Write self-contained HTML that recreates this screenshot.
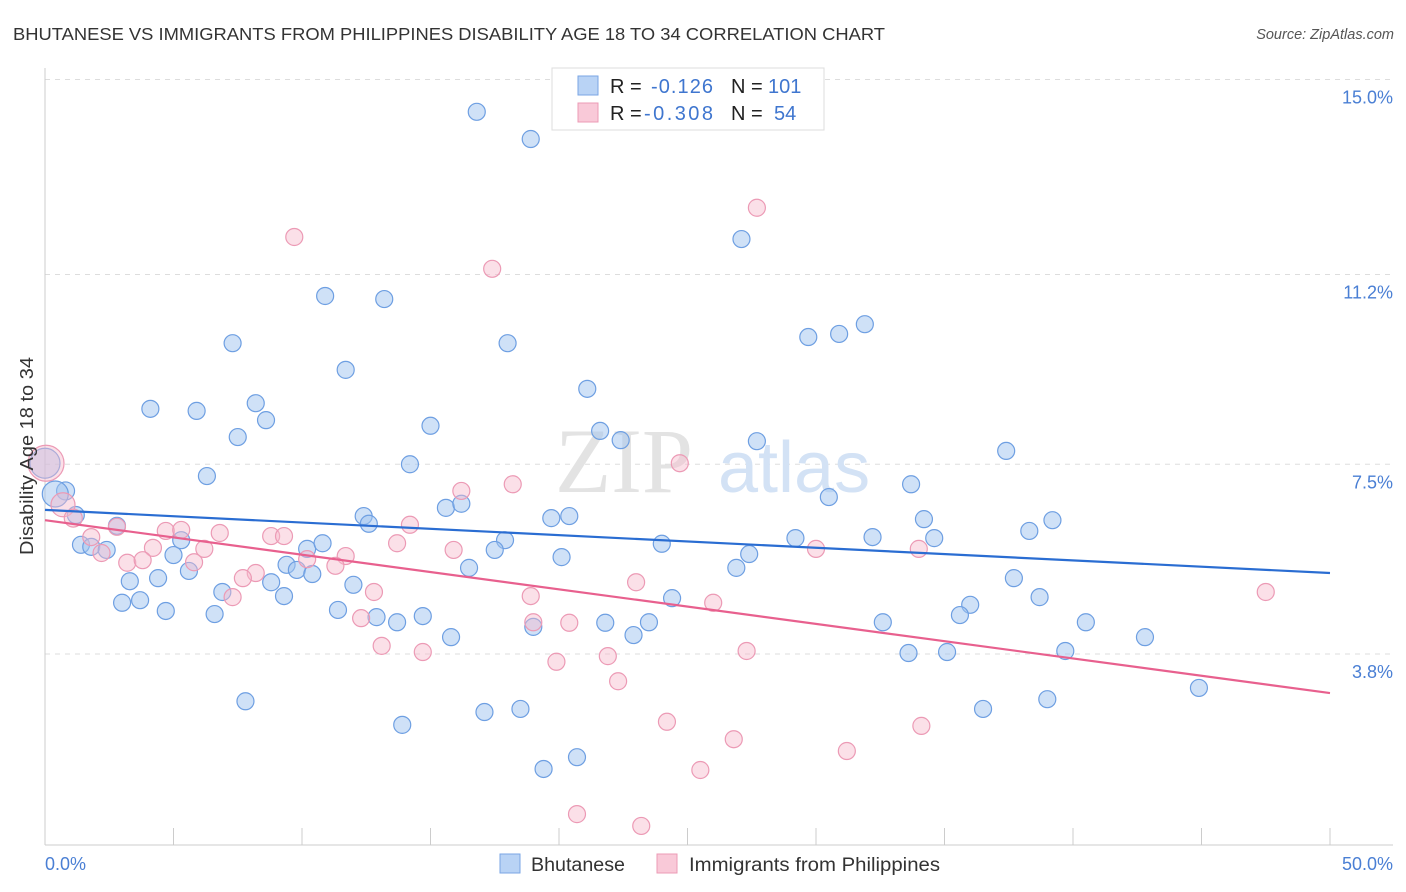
<!DOCTYPE html>
<html><head><meta charset="utf-8">
<style>
body{margin:0;background:#fff;font-family:"Liberation Sans",sans-serif;}
svg{display:block}
</style></head>
<body>
<svg id="chart" width="1406" height="892" viewBox="0 0 1406 892" xmlns="http://www.w3.org/2000/svg">
<text x="13" y="40" font-size="17.5" fill="#333" textLength="872" lengthAdjust="spacingAndGlyphs">BHUTANESE VS IMMIGRANTS FROM PHILIPPINES DISABILITY AGE 18 TO 34 CORRELATION CHART</text>
<text x="1394" y="39" font-size="14.5" fill="#555" font-style="italic" text-anchor="end">Source: ZipAtlas.com</text>
<g id="grid"></g>
<g>
<text x="555" y="492" font-size="92" font-family="Liberation Serif,serif" fill="#e3e3e3">ZIP</text>
<text x="718" y="492" font-size="72" fill="#d3e2f5">atlas</text>
</g>
<g id="axes"></g>
<g id="pts"></g>
<g id="trends"></g>
<text transform="translate(33,456) rotate(-90)" font-size="18" fill="#333" text-anchor="middle" textLength="198" lengthAdjust="spacingAndGlyphs">Disability Age 18 to 34</text>
<text x="45" y="870" font-size="18" fill="#4a7fd4">0.0%</text>
<text x="1393" y="870" font-size="18" fill="#4a7fd4" text-anchor="end">50.0%</text>
<g>
<rect x="552" y="68" width="272" height="62" fill="#fff" stroke="#ddd"/>
<rect x="578" y="76" width="20" height="19" fill="#b9d3f5" stroke="#7aa6e4"/>
<rect x="578" y="103" width="20" height="19" fill="#f9c9d8" stroke="#ec9bb6"/>
<text x="610" y="93" font-size="20" fill="#222">R = <tspan fill="#3f76cf" x="651" textLength="62">-0.126</tspan><tspan x="731">N = </tspan><tspan fill="#3f76cf" x="768">101</tspan></text>
<text x="610" y="120" font-size="20" fill="#222">R = <tspan fill="#3f76cf" x="644" textLength="69">-0.308</tspan><tspan x="731">N = </tspan><tspan fill="#3f76cf" x="774">54</tspan></text>
</g>
<g>
<rect x="500" y="854" width="20" height="19" fill="#b9d3f5" stroke="#7aa6e4"/>
<text x="531" y="871" font-size="19" fill="#333" textLength="94" lengthAdjust="spacingAndGlyphs">Bhutanese</text>
<rect x="657" y="854" width="20" height="19" fill="#f9c9d8" stroke="#ec9bb6"/>
<text x="689" y="871" font-size="19" fill="#333" textLength="251" lengthAdjust="spacingAndGlyphs">Immigrants from Philippines</text>
</g>
</svg>
<script>
const yTicks=[15.0,11.2,7.5,3.8];
const yTickLabels=["15.0%","11.2%","7.5%","3.8%"];
const xTicks=[0,5,10,15,20,25,30,35,40,45,50];
const blueX=[16.8,18.9,27.1,10.9,13.2,18.0,7.3,29.7,30.9,31.9,11.7,21.1,4.1,5.9,8.2,8.6,15.0,7.5,21.6,22.4,27.7,37.4,14.2,6.3,33.7,30.5,0.8,0.4,15.6,16.2,12.4,12.6,19.7,20.4,34.2,39.2,38.3,1.2,2.8,5.3,1.4,1.8,2.4,10.2,10.8,17.9,17.5,20.1,24.0,29.2,32.2,34.6,27.4,5.0,9.4,9.8,10.4,16.5,26.9,5.6,3.3,4.4,8.8,12.0,37.7,6.9,9.3,24.4,38.7,3.0,3.7,4.7,6.6,11.4,12.9,13.7,14.7,36.0,35.6,21.8,19.0,23.5,22.9,32.6,40.5,15.8,42.8,33.6,35.1,39.7,44.9,7.8,39.0,17.1,18.5,36.5,13.9,19.4,20.7,0.0];
const blueY=[14.37,13.84,11.89,10.78,10.72,9.86,9.86,9.98,10.04,10.23,9.34,8.97,8.58,8.54,8.69,8.36,8.25,8.03,8.15,7.97,7.95,7.76,7.50,7.27,7.11,6.86,6.98,6.92,6.65,6.73,6.49,6.34,6.45,6.49,6.43,6.41,6.20,6.51,6.30,6.02,5.93,5.89,5.83,5.85,5.96,6.02,5.83,5.69,5.95,6.06,6.08,6.06,5.75,5.73,5.54,5.44,5.36,5.48,5.48,5.42,5.22,5.28,5.20,5.15,5.28,5.01,4.93,4.89,4.91,4.80,4.85,4.64,4.58,4.66,4.52,4.42,4.54,4.76,4.56,4.41,4.33,4.42,4.17,4.42,4.42,4.13,4.13,3.82,3.84,3.86,3.14,2.88,2.92,2.67,2.73,2.73,2.42,1.56,1.79,7.52];
const blueR=[8.5,8.5,8.5,8.5,8.5,8.5,8.5,8.5,8.5,8.5,8.5,8.5,8.5,8.5,8.5,8.5,8.5,8.5,8.5,8.5,8.5,8.5,8.5,8.5,8.5,8.5,9,13,8.5,8.5,8.5,8.5,8.5,8.5,8.5,8.5,8.5,8.5,8.5,8.5,8.5,8.5,8.5,8.5,8.5,8.5,8.5,8.5,8.5,8.5,8.5,8.5,8.5,8.5,8.5,8.5,8.5,8.5,8.5,8.5,8.5,8.5,8.5,8.5,8.5,8.5,8.5,8.5,8.5,8.5,8.5,8.5,8.5,8.5,8.5,8.5,8.5,8.5,8.5,8.5,8.5,8.5,8.5,8.5,8.5,8.5,8.5,8.5,8.5,8.5,8.5,8.5,8.5,8.5,8.5,8.5,8.5,8.5,8.5,15];
const pinkX=[0.04,9.7,27.7,17.4,24.7,16.2,18.2,0.7,1.1,1.8,2.8,4.7,5.3,6.8,8.8,9.3,4.2,6.2,2.2,3.2,3.8,5.8,10.2,11.7,11.3,8.2,7.7,13.7,14.2,15.9,23.0,30.0,34.0,12.8,18.9,7.3,26.0,47.5,12.3,19.0,20.4,13.1,14.7,19.9,21.9,27.3,22.3,24.2,26.8,34.1,31.2,25.5,20.7,23.2];
const pinkY=[7.52,11.93,12.50,11.31,7.52,6.98,7.11,6.71,6.45,6.08,6.28,6.20,6.22,6.16,6.10,6.10,5.87,5.85,5.77,5.58,5.63,5.59,5.65,5.71,5.52,5.38,5.28,5.96,6.32,5.83,5.20,5.85,5.85,5.01,4.93,4.91,4.80,5.01,4.50,4.42,4.41,3.96,3.84,3.65,3.76,3.86,3.27,2.48,2.14,2.40,1.91,1.54,0.68,0.45];
const pinkR=[18,8.5,8.5,8.5,8.5,8.5,8.5,12,9,8.5,8.5,8.5,8.5,8.5,8.5,8.5,8.5,8.5,8.5,8.5,8.5,8.5,8.5,8.5,8.5,8.5,8.5,8.5,8.5,8.5,8.5,8.5,8.5,8.5,8.5,8.5,8.5,8.5,8.5,8.5,8.5,8.5,8.5,8.5,8.5,8.5,8.5,8.5,8.5,8.5,8.5,8.5,8.5,8.5];
const trendX=[0,50];
const blueTrend=[6.61,5.38];
const pinkTrend=[6.41,3.04];

const NS="http://www.w3.org/2000/svg";
const X0=45,X1=1330,YB=849,PPY=51.3;
function sx(v){return X0+(X1-X0)*v/50;}
function sy(v){return YB-v*PPY;}
function mk(tag,attrs,parent){const e=document.createElementNS(NS,tag);for(const k in attrs)e.setAttribute(k,attrs[k]);parent.appendChild(e);return e;}
const grid=document.getElementById('grid'),axes=document.getElementById('axes');
yTicks.forEach((t,i)=>{
  const l=mk('line',{x1:X0,x2:1393,y1:sy(t),y2:sy(t),stroke:'#ddd','stroke-dasharray':'5,5'},grid);
  
  
  const tx=mk('text',{x:1393,y:sy(t)+24,'font-size':18,fill:'#4a7fd4','text-anchor':'end'},axes);
  tx.textContent=yTickLabels[i];
  
  
});
const ya=mk('line',{x1:X0,x2:X0,y1:68,y2:845,stroke:'#ccc'},axes);


const xa=mk('line',{x1:X0,x2:1393,y1:845,y2:845,stroke:'#ccc'},axes);


xTicks.forEach(t=>{
  const l=mk('line',{x1:sx(t),x2:sx(t),y1:828,y2:845,stroke:'#ccc'},axes);
  
  
});
const pts=document.getElementById('pts');
blueX.forEach((v,i)=>{
  const c=mk('circle',{cx:sx(v),cy:sy(blueY[i]),r:blueR[i],fill:'rgba(160,196,240,0.5)',stroke:'#6e9fe2','stroke-width':1.2},pts);
  
  
});
pinkX.forEach((v,i)=>{
  const c=mk('circle',{cx:sx(v),cy:sy(pinkY[i]),r:pinkR[i],fill:'rgba(246,186,205,0.45)',stroke:'#ec9ab5','stroke-width':1.2},pts);
  
  
});
const tr=document.getElementById('trends');
const bl=mk('line',{x1:sx(trendX[0]),x2:sx(trendX[1]),y1:sy(blueTrend[0]),y2:sy(blueTrend[1]),stroke:'#2a6dd2','stroke-width':2.2},tr);


const pl=mk('line',{x1:sx(trendX[0]),x2:sx(trendX[1]),y1:sy(pinkTrend[0]),y2:sy(pinkTrend[1]),stroke:'#e8608e','stroke-width':2.2},tr);


</script>
</body></html>
